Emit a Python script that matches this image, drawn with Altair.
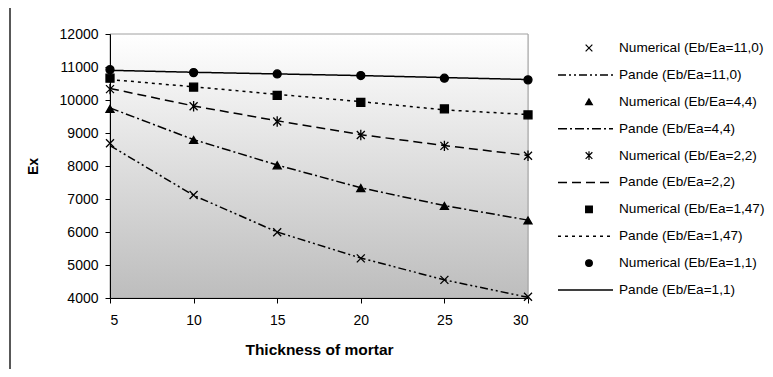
import altair as alt
import pandas as pd

# ---- data ----
thickness = [5, 10, 15, 20, 25, 30]

num_11_0 = [8690, 7120, 5990, 5200, 4550, 4040]
pande_11_0 = [8620, 7110, 6000, 5210, 4550, 4020]
num_4_4 = [9730, 8790, 8020, 7330, 6790, 6350]
pande_4_4 = [9760, 8800, 8030, 7340, 6800, 6360]
num_2_2 = [10330, 9810, 9350, 8940, 8610, 8310]
pande_2_2 = [10350, 9820, 9370, 8950, 8620, 8320]
num_1_47 = [10660, 10390, 10140, 9930, 9730, 9550]
pande_1_47 = [10620, 10400, 10170, 9950, 9700, 9560]
num_1_1 = [10920, 10830, 10790, 10740, 10660, 10610]
pande_1_1 = [10900, 10840, 10790, 10740, 10680, 10620]

series_names = [
    "Numerical (Eb/Ea=11,0)", "Pande (Eb/Ea=11,0)",
    "Numerical (Eb/Ea=4,4)", "Pande (Eb/Ea=4,4)",
    "Numerical (Eb/Ea=2,2)", "Pande (Eb/Ea=2,2)",
    "Numerical (Eb/Ea=1,47)", "Pande (Eb/Ea=1,47)",
    "Numerical (Eb/Ea=1,1)", "Pande (Eb/Ea=1,1)",
]
series_values = [num_11_0, pande_11_0, num_4_4, pande_4_4, num_2_2,
                 pande_2_2, num_1_47, pande_1_47, num_1_1, pande_1_1]

y_ticks = list(range(4000, 12001, 1000))
x_ticks = [5, 10, 15, 20, 25, 30]

# ---- styles ----
X_PATH = "M-1,-1L1,1M1,-1L-1,1"
AST_PATH = "M-1,-1L1,1M1,-1L-1,1M0,-1.3L0,1.3"
num_names = [n for n in series_names if n.startswith("Numerical")]
pande_names = [n for n in series_names if n.startswith("Pande")]
shapes = [X_PATH, "triangle-up", AST_PATH, "square", "circle"]
dashes = [[8, 3, 2, 3, 2, 3], [9, 3, 2, 3], [9, 5], [3, 4], [1, 0]]

rows = []
for name, vals in zip(series_names, series_values):
    kind = name.split(" ")[0]
    for t, v in zip(thickness, vals):
        rows.append({"thickness": t, "Ex": v, "series": name, "kind": kind})
df = pd.DataFrame(rows)
df_lines = df[df.kind == "Pande"]
df_pts = df[df.kind == "Numerical"]

df_leg = pd.DataFrame({"series": series_names,
                       "kind": [n.split(" ")[0] for n in series_names]})
df_leg_pts = df_leg[df_leg.kind == "Numerical"]
df_leg_lines = df_leg[df_leg.kind == "Pande"]

W, H = 418, 264
FONT = "Liberation Sans"

shape_scale = alt.Scale(domain=num_names, range=shapes)
dash_scale = alt.Scale(domain=pande_names, range=dashes)

x_enc = alt.X("thickness:Q", scale=alt.Scale(domain=[5, 30], nice=False),
              axis=alt.Axis(values=x_ticks, title="Thickness of mortar", grid=False,
                            labelFontSize=14, titleFontSize=15.5, titleFontWeight="bold",
                            tickSize=5, labelPadding=10, titlePadding=15,
                            domainColor="black", tickColor="black", labelColor="black",
                            titleColor="black", zindex=1))
y_enc = alt.Y("Ex:Q", scale=alt.Scale(domain=[4000, 12000], nice=False),
              axis=alt.Axis(values=y_ticks, title="Ex", grid=False, format="d",
                            labelFontSize=14, titleFontSize=14, titleFontWeight="bold",
                            tickSize=5, labelPadding=7, titlePadding=19,
                            domainColor="black", tickColor="black", labelColor="black",
                            titleColor="black", zindex=1))

one = pd.DataFrame({"a": [0]})

frame = alt.Chart(one).mark_rect(fill="transparent", stroke="#222", strokeWidth=1.5).encode(
    x=alt.value(-100), x2=alt.value(W + 300), y=alt.value(-27), y2=alt.value(H + 200))

bg = alt.Chart(one).mark_rect(
    color=alt.Gradient(gradient="linear",
                       stops=[alt.GradientStop(color="#ffffff", offset=0),
                              alt.GradientStop(color="#bdbdbd", offset=1)],
                       x1=0, x2=0, y1=0, y2=1),
    stroke="#a0a0a0", strokeWidth=1).encode(
    x=alt.value(0), x2=alt.value(W), y=alt.value(0), y2=alt.value(H))

lines = alt.Chart(df_lines).mark_line(color="black", strokeWidth=1.5).encode(
    x=x_enc, y=y_enc,
    strokeDash=alt.StrokeDash("series:N", scale=dash_scale, legend=None),
    detail="series:N",
)

pts = alt.Chart(df_pts).mark_point(filled=True, fill="black", stroke="black",
                                   strokeWidth=1.3, size=64, opacity=1).encode(
    x=x_enc, y=y_enc,
    shape=alt.Shape("series:N", scale=shape_scale, legend=None),
)

main = alt.layer(frame, bg, lines, pts)

# ---- legend (drawn with its own point scale) ----
leg_y = alt.Y("series:N", scale=alt.Scale(type="point", domain=series_names,
                                          range=[14, 256], padding=0), axis=None)

leg_lines = alt.Chart(df_leg_lines).mark_rule(color="black", strokeWidth=1.5).encode(
    x=alt.value(448), x2=alt.value(503), y=leg_y,
    strokeDash=alt.StrokeDash("series:N", scale=dash_scale, legend=None),
)
leg_pts = alt.Chart(df_leg_pts).mark_point(filled=True, fill="black", stroke="black",
                                           strokeWidth=1.2, size=45, opacity=1).encode(
    x=alt.value(479), y=leg_y,
    shape=alt.Shape("series:N", scale=shape_scale, legend=None),
)
leg_text = alt.Chart(df_leg).mark_text(align="left", baseline="middle", fontSize=13.6,
                                       font=FONT, color="black").encode(
    x=alt.value(509), y=leg_y, text="series:N",
)
leg = alt.layer(leg_lines, leg_pts, leg_text)

chart = alt.layer(main, leg).resolve_scale(y="independent").properties(
    width=W, height=H,
    autosize=alt.AutoSizeParams(type="none"),
    padding={"left": 102, "top": 26, "right": 237, "bottom": 71},
).configure_view(stroke=None).configure(font=FONT)

chart.save("out.html", embed_options={"renderer": "svg", "actions": False})
